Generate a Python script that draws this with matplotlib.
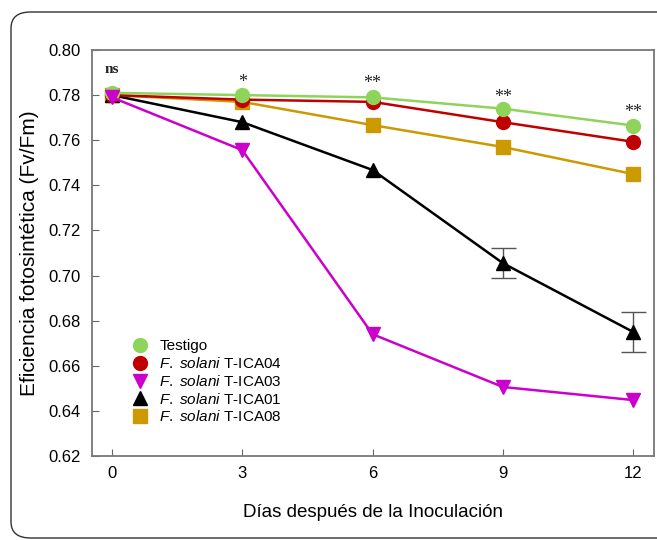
import numpy as np
import matplotlib.pyplot as plt
from matplotlib.patches import FancyBboxPatch
from matplotlib.lines import Line2D

plt.rcParams['font.family'] = ['Liberation Sans', 'DejaVu Sans']
plt.rcParams['mathtext.fontset'] = 'custom'
plt.rcParams['mathtext.it'] = 'Liberation Sans:italic'
plt.rcParams['mathtext.rm'] = 'Liberation Sans'

dias = [0, 3, 6, 9, 12]
testigo = [0.781, 0.780, 0.779, 0.774, 0.7665]
ica04 = [0.780, 0.778, 0.777, 0.768, 0.7593]
ica03 = [0.779, 0.7556, 0.674, 0.6506, 0.6448]
ica01 = [0.780, 0.768, 0.7468, 0.7055, 0.675]
ica01_err = [0, 0, 0, 0.0066, 0.0088]
ica08 = [0.780, 0.777, 0.7667, 0.757, 0.745]
signif = ["ns", "*", "**", "**", "**"]
signif_y = [0.7912, 0.7855, 0.7850, 0.7788, 0.7722]

series = [
    ("Testigo", testigo, "#8fd45a", "o"),
    (r"$\it{F.\ solani}$ T-ICA04", ica04, "#c00000", "o"),
    (r"$\it{F.\ solani}$ T-ICA03", ica03, "#cc00cc", "v"),
    (r"$\it{F.\ solani}$ T-ICA01", ica01, "black", "^"),
    (r"$\it{F.\ solani}$ T-ICA08", ica08, "#cc9900", "s"),
]
orden_z = [6, 5, 7, 4, 3]

fig = plt.figure(figsize=(6.57, 5.4), dpi=100)
ax = fig.add_axes([92/657, 1 - 456/540, (654-92)/657, (456-50)/540])

borde = FancyBboxPatch((11/657, 2/540), 700/657, 526/540,
                       boxstyle="round,pad=0,rounding_size=0.03",
                       transform=fig.transFigure, fill=False,
                       edgecolor="#333333", linewidth=1.0, zorder=0)
fig.patches.append(borde)

handles = []
for (lab, vals, col, mk), z in zip(series, orden_z):
    ax.plot(dias, vals, color=col, marker=mk, markersize=10, lw=1.8, zorder=z)
    handles.append(Line2D([], [], color=col, marker=mk, markersize=10,
                          ls="none", label=lab))

# barras de error solo donde existen
idx = [i for i, e in enumerate(ica01_err) if e > 0]
ax.errorbar([dias[i] for i in idx], [ica01[i] for i in idx],
            yerr=[ica01_err[i] for i in idx], fmt="none", ecolor="#555555",
            elinewidth=1.0, capsize=9, capthick=1.0, zorder=2)

for d, s, y in zip(dias, signif, signif_y):
    if s == "ns":
        ax.text(d, y, s, ha="center", va="center", family="Liberation Serif",
                fontsize=11, fontweight="bold", color="#222222")
    else:
        ax.text(d, y, s, ha="center", va="center", family="Liberation Serif",
                fontsize=13, color="#222222")

ax.set_xlim(-0.46, 12.48)
ax.set_ylim(0.62, 0.80)
ax.set_xticks(dias)
yt = np.arange(0.62, 0.801, 0.02)
ax.set_yticks(yt)
ax.set_yticklabels([f"{v:.2f}" for v in yt])
ax.tick_params(direction="in", length=5, labelsize=12, color="#666666", pad=8)
ax.tick_params(axis="x", pad=7)
for sp in ax.spines.values():
    sp.set_color("#777777")
    sp.set_linewidth(1.3)

ax.set_xlabel("Días después de la Inoculación", fontsize=13.5, labelpad=17)
ax.set_ylabel("Eficiencia fotosintética (Fv/Fm)", fontsize=15, labelpad=7)

ax.legend(handles=handles, loc="upper left", bbox_to_anchor=(0.071, 0.287),
          frameon=False, fontsize=11, handlelength=1.0, handletextpad=0.8,
          labelspacing=0.18, borderaxespad=0, borderpad=0)

fig.savefig("out.png", dpi=100)
